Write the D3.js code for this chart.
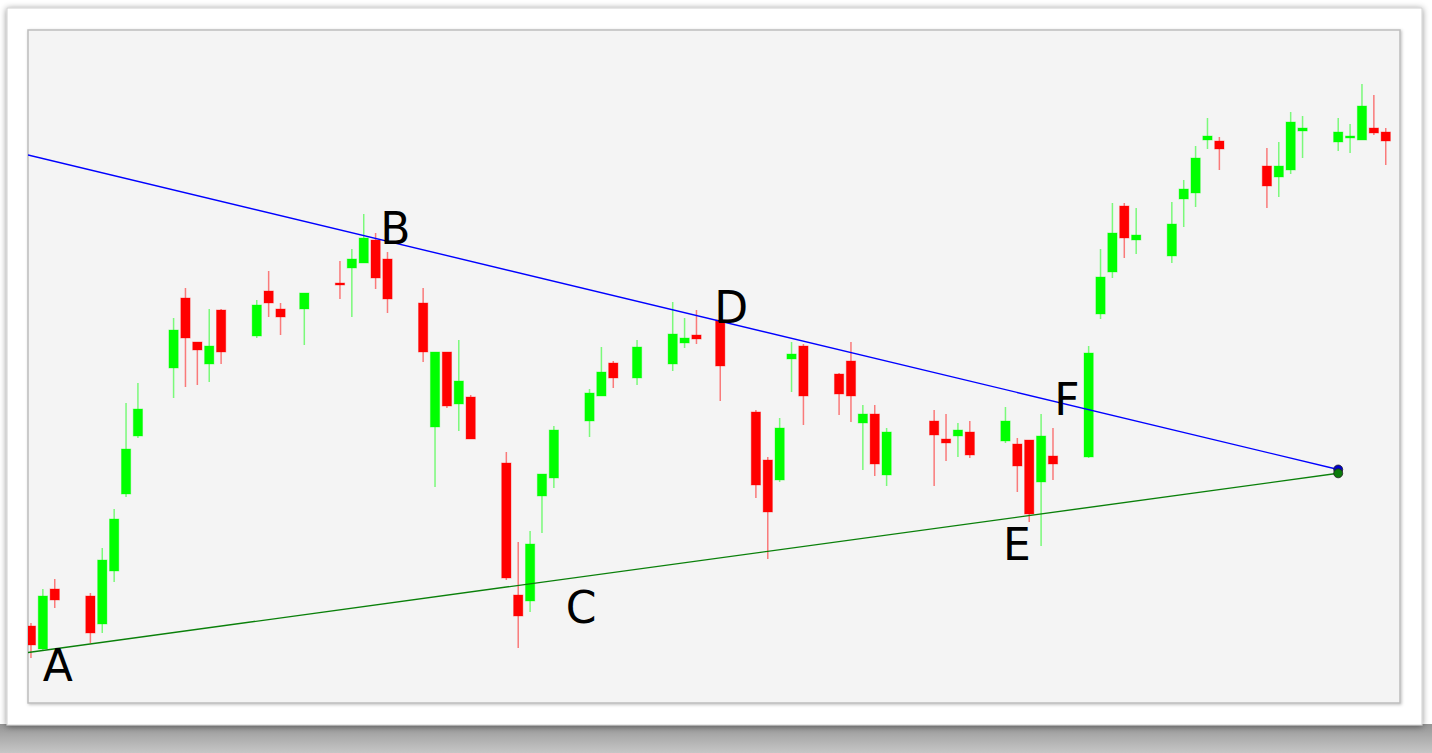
<!DOCTYPE html>
<html>
<head>
<meta charset="utf-8">
<script src="https://cdn.jsdelivr.net/npm/d3@7"></script>
<style>
  html, body { margin: 0; padding: 0; background: #ffffff; }
  svg { display: block; }
  .label { font-family: "DejaVu Sans", sans-serif; font-size: 44px; fill: #000; }
</style>
</head>
<body>
<div id="chart"></div>
<script>
// trading day number (calendar days from the first candle, weekends left out)
var days = [0, 1, 2,
  5, 6, 7, 8, 9,
  12, 13, 14, 15, 16,
  19, 20, 21, 23,
  26, 27, 28, 29, 30,
  33, 34, 35, 36, 37,
  40, 41, 42, 43, 44,
  47, 48, 49, 51,
  54, 55, 56, 58,
  61, 62, 63, 64, 65,
  68, 69, 70, 71, 72,
  76, 77, 78, 79,
  82, 83, 84, 85, 86,
  89, 90, 91, 92, 93,
  96, 97, 98, 99, 100,
  104, 105, 106, 107,
  110, 111, 112, 113, 114]

var opens = [107.7, 105.4, 111.4,
  110.7, 107.9, 113.2, 120.9, 126.7,
  133.5, 140.5, 136.1, 133.9, 139.3,
  136.7, 141.2, 139.4, 139.4,
  142.0, 143.5, 144.0, 146.3, 144.4,
  140.0, 127.6, 135.1, 129.9, 130.6,
  124.0, 110.8, 110.2, 120.7, 122.5,
  128.2, 130.7, 134.0, 132.5,
  133.9, 136.0, 136.8, 138.3,
  129.1, 124.3, 122.3, 134.4, 135.7,
  132.9, 134.2, 128.0, 128.9, 122.8,
  128.2, 126.4, 126.7, 127.1,
  126.2, 125.9, 126.3, 122.1, 124.7,
  124.6, 138.9, 143.1, 149.7, 146.3,
  144.7, 150.4, 151.0, 156.3, 156.2,
  153.7, 152.6, 153.3, 157.2,
  156.1, 156.6, 156.3, 157.5, 157.1]

var highs = [108.0, 111.4, 112.4,
  111.0, 115.5, 119.4, 130.0, 132.0,
  138.5, 141.5, 136.1, 139.4, 139.4,
  140.3, 143.2, 140.0, 141.0,
  144.2, 145.4, 148.9, 147.0, 145.1,
  141.5, 135.1, 135.1, 136.3, 130.8,
  125.1, 116.1, 117.2, 122.9, 127.7,
  131.4, 135.6, 134.2, 136.3,
  140.1, 138.5, 139.3, 139.4,
  129.3, 124.6, 128.5, 136.1, 135.9,
  133.0, 136.1, 129.8, 129.8, 127.5,
  129.3, 128.9, 128.0, 128.2,
  129.6, 126.5, 126.3, 128.9, 127.5,
  135.7, 145.4, 150.0, 150.0, 149.5,
  150.1, 152.3, 155.7, 158.5, 156.6,
  155.5, 156.1, 159.1, 158.7,
  158.5, 157.9, 161.9, 160.8, 157.5]

var lows = [104.5, 105.3, 109.5,
  106.0, 107.0, 112.1, 120.6, 126.5,
  130.5, 131.6, 131.8, 132.1, 133.9,
  136.5, 138.6, 136.8, 135.8,
  140.4, 138.6, 144.0, 141.4, 139.0,
  134.1, 121.6, 129.5, 127.2, 126.4,
  112.3, 105.5, 109.1, 117.0, 121.5,
  126.6, 130.7, 131.5, 131.8,
  133.2, 135.5, 135.9, 130.2,
  120.5, 114.4, 122.1, 131.1, 127.8,
  128.8, 128.1, 123.3, 122.7, 121.7,
  121.7, 124.2, 124.6, 124.5,
  126.0, 121.1, 118.1, 115.7, 122.3,
  124.5, 138.4, 142.5, 144.5, 144.9,
  144.0, 147.6, 149.6, 155.4, 153.3,
  149.5, 150.6, 152.9, 154.5,
  155.2, 155.0, 156.3, 156.8, 153.8]

var closes = [105.8, 110.7, 110.3,
  107.0, 114.3, 118.4, 125.4, 129.4,
  137.3, 136.5, 135.3, 135.7, 135.1,
  139.8, 140.0, 138.6, 141.0,
  141.8, 144.4, 146.5, 142.5, 140.4,
  135.1, 135.1, 129.7, 132.2, 126.4,
  112.5, 108.7, 115.9, 122.9, 127.3,
  131.0, 133.1, 132.5, 135.6,
  136.9, 136.5, 136.4, 133.7,
  121.8, 119.1, 127.5, 134.9, 130.7,
  130.9, 130.7, 128.9, 123.9, 127.1,
  126.8, 126.0, 127.3, 124.8,
  128.2, 123.7, 118.9, 126.7, 123.9,
  135.0, 142.6, 147.0, 146.5, 146.8,
  147.9, 151.4, 154.5, 156.7, 155.4,
  151.7, 153.7, 158.1, 157.5,
  157.1, 156.7, 159.7, 157.0, 156.2]

// trend lines: upper (resistance) and lower (support), meeting near day 110
var upperLine = [{ day: -0.25, price: 154.8 }, { day: 110, price: 123.35 }]
var lowerLine = [{ day: -0.25, price: 105.05 }, { day: 110, price: 122.97 }]

// point labels
var labelNames = ["A", "B", "C", "D", "E", "F"]
var labelDays = [1.0, 29.4, 45.0, 57.5, 81.8, 86.1]
var labelPrices = [102.2, 145.9, 108.0, 138.0, 114.3, 128.8]

var width = 1432,
    height = 753

var panel = { left: 28, top: 30, right: 1400, bottom: 703 }

var svg = d3.select("#chart")
  .append("svg")
  .attr("width", width)
  .attr("height", height)

var defs = svg.append("defs")

var floorGrad = defs.append("linearGradient")
  .attr("id", "floor")
  .attr("x1", 0).attr("y1", 0).attr("x2", 0).attr("y2", 1)
floorGrad.append("stop").attr("offset", "0%").attr("stop-color", "#959595")
floorGrad.append("stop").attr("offset", "45%").attr("stop-color", "#acacac")
floorGrad.append("stop").attr("offset", "100%").attr("stop-color", "#c6c6c6")

var cardShadow = defs.append("filter")
  .attr("id", "cardShadow")
  .attr("x", "-5%").attr("y", "-5%").attr("width", "110%").attr("height", "115%")
cardShadow.append("feDropShadow")
  .attr("dx", 0).attr("dy", 1).attr("stdDeviation", 3)
  .attr("flood-color", "#000").attr("flood-opacity", 0.45)

var panelShadow = defs.append("filter")
  .attr("id", "panelShadow")
  .attr("x", "-2%").attr("y", "-2%").attr("width", "104%").attr("height", "104%")
panelShadow.append("feDropShadow")
  .attr("dx", 1).attr("dy", 1).attr("stdDeviation", 1.5)
  .attr("flood-color", "#000").attr("flood-opacity", 0.25)

defs.append("clipPath")
  .attr("id", "plotClip")
  .append("rect")
  .attr("x", panel.left)
  .attr("y", panel.top)
  .attr("width", panel.right - panel.left)
  .attr("height", panel.bottom - panel.top)

// grey floor shadow under the card
svg.append("rect")
  .attr("x", 0)
  .attr("y", 724)
  .attr("width", width)
  .attr("height", height - 724)
  .attr("fill", "url(#floor)")

// white card
svg.append("rect")
  .attr("x", 7)
  .attr("y", 8)
  .attr("width", 1415)
  .attr("height", 717)
  .attr("fill", "#ffffff")
  .attr("stroke", "#d0d0d0")
  .attr("stroke-width", 1)
  .attr("filter", "url(#cardShadow)")

// chart panel
svg.append("rect")
  .attr("x", panel.left)
  .attr("y", panel.top)
  .attr("width", panel.right - panel.left)
  .attr("height", panel.bottom - panel.top)
  .attr("fill", "#f4f4f4")
  .attr("stroke", "#bdbdbd")
  .attr("stroke-width", 1.5)
  .attr("filter", "url(#panelShadow)")

var x = d3.scaleLinear()
  .domain([-0.25, 115.2])
  .range([panel.left, panel.right])

var y = d3.scaleLinear()
  .domain([100, 167.3])
  .range([panel.bottom, panel.top])

var candles = days.map(function(d, i) {
  return { day: d, open: opens[i], high: highs[i], low: lows[i], close: closes[i] }
})

var bodyWidth = (x(1) - x(0)) * 0.78

var plot = svg.append("g")
  .attr("clip-path", "url(#plotClip)")

var candle = plot.selectAll(".candle")
  .data(candles)
  .enter().append("g")
  .attr("class", "candle")

candle.append("line")
  .attr("x1", function(d) { return x(d.day) })
  .attr("x2", function(d) { return x(d.day) })
  .attr("y1", function(d) { return y(d.high) })
  .attr("y2", function(d) { return y(d.low) })
  .attr("stroke", function(d) { return d.close >= d.open ? "#00ff00" : "#ff0000" })
  .attr("stroke-opacity", 0.5)
  .attr("stroke-width", 1.5)

candle.append("rect")
  .attr("x", function(d) { return x(d.day) - bodyWidth / 2 })
  .attr("y", function(d) { return y(Math.max(d.open, d.close)) })
  .attr("width", bodyWidth)
  .attr("height", function(d) { return Math.max(2, Math.abs(y(d.open) - y(d.close))) })
  .attr("fill", function(d) { return d.close >= d.open ? "#00ff00" : "#ff0000" })
  .attr("stroke", function(d) { return d.close >= d.open ? "#00ff00" : "#ff0000" })
  .attr("stroke-opacity", 0.35)
  .attr("stroke-width", 1)

var line = d3.line()
  .x(function(d) { return x(d.day) })
  .y(function(d) { return y(d.price) })

plot.append("path")
  .datum(upperLine)
  .attr("d", line)
  .attr("fill", "none")
  .attr("stroke", "#0000ff")
  .attr("stroke-width", 1.4)

plot.append("path")
  .datum(lowerLine)
  .attr("d", line)
  .attr("fill", "none")
  .attr("stroke", "#0a800a")
  .attr("stroke-width", 1.4)

// end points of the two lines
plot.append("circle")
  .attr("cx", x(upperLine[1].day))
  .attr("cy", y(upperLine[1].price))
  .attr("r", 4.5)
  .attr("fill", "#0000cc")
  .attr("stroke", "#222")
  .attr("stroke-width", 0.8)

plot.append("circle")
  .attr("cx", x(lowerLine[1].day))
  .attr("cy", y(lowerLine[1].price))
  .attr("r", 4.5)
  .attr("fill", "#0a7a0a")
  .attr("stroke", "#222")
  .attr("stroke-width", 0.8)

svg.selectAll(".label")
  .data(labelNames)
  .enter().append("text")
  .attr("class", "label")
  .attr("x", function(d, i) { return x(labelDays[i]) })
  .attr("y", function(d, i) { return y(labelPrices[i]) })
  .text(function(d) { return d })
</script>
</body>
</html>
